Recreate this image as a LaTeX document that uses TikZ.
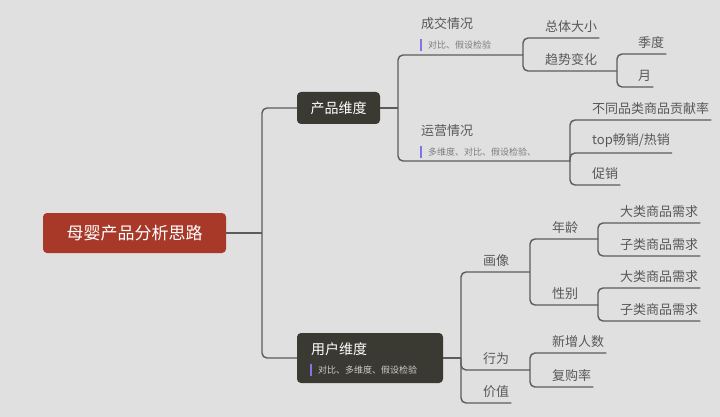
\documentclass[tikz,border=0pt]{standalone}
\usepackage{fontspec}
\setmainfont{Noto Sans CJK SC}
\usetikzlibrary{positioning}
\definecolor{canvas}{RGB}{224,224,224}
\definecolor{rootred}{RGB}{168,56,40}
\definecolor{darkbox}{RGB}{58,58,50}
\definecolor{linegray}{RGB}{92,92,92}
\definecolor{textgray}{RGB}{88,88,88}
\definecolor{notegray}{RGB}{125,125,125}
\definecolor{barblue}{RGB}{125,120,225}

\begin{document}
\begin{tikzpicture}[
	x=1pt, y=-1pt,
	% Styles for boxes
	rootnode/.style={fill=rootred, text=white, rounded corners=4pt, minimum width=183pt, minimum height=40pt, inner sep=0pt, font=\fontsize{17}{20}\selectfont},
	mainnode/.style={fill=darkbox, text=white, rounded corners=4pt, inner sep=0pt, font=\fontsize{14}{17}\selectfont},
	% Styles for text and lines
	topic/.style={anchor=south west, text=textgray, inner xsep=2pt, inner ysep=5pt, font=\fontsize{13}{15}\selectfont},
	title/.style={anchor=west, text=textgray, inner sep=0pt, font=\fontsize{13}{15}\selectfont},
	notetext/.style={anchor=west, text=notegray, inner xsep=0pt, inner ysep=2pt, font=\fontsize{9}{11}\selectfont},
	notemark/.style={draw=barblue, line width=1.3pt},
	branch/.style={draw=linegray, line width=1.4pt, rounded corners=5pt}
	]
	
	% background
	\fill[canvas] (0,0) rectangle (720,417);
	\useasboundingbox (0,0) rectangle (720,417);
	
	% ==========================================
	% ROOT AND MAIN BRANCHES
	% ==========================================
	\node[rootnode] (root) at (134.5,233) {母婴产品分析思路};
	\coordinate (f-root) at (262,233);
	
	\node[mainnode, minimum width=83pt, minimum height=32pt] (pd) at (338.5,108) {产品维度};
	
	\node[mainnode, minimum width=146pt, minimum height=50pt] (ud) at (370,358) {};
	\node[title, text=white, font=\fontsize{14}{17}\selectfont] (ud-t) at (311,349) {用户维度};
	\node[notetext, text=black!20] (ud-n) at (318,370) {对比、多维度、假设检验};
	\draw[notemark] ([xshift=-7pt]ud-n.north west) -- ([xshift=-7pt]ud-n.south west);
	
	\draw[branch] (root.east) -- (f-root);
	\draw[branch] (f-root) |- (pd.west);
	\draw[branch] (f-root) |- (ud.west);
	
	% ==========================================
	% PRODUCT SIDE
	% ==========================================
	\coordinate (f-pd) at (398,108);
	\coordinate (f-cj) at (523,55);
	\coordinate (f-yy) at (570,161);
	\coordinate (f-qs) at (617,71);
	
	% deal situation
	\node[title] (cj) at (421,24) {成交情况};
	\node[notetext] (cj-n) at (428,45) {对比、假设检验};
	\draw[notemark] ([xshift=-7pt]cj-n.north west) -- ([xshift=-7pt]cj-n.south west);
	
	\node[topic] (ztdx) at (543,38) {总体大小};
	\node[topic] (qsbh) at (543,71) {趋势变化};
	\node[topic] (jd) at (636,54) {季度};
	\node[topic] (yue) at (636,87) {月};
	
	% operation situation
	\node[title] (yy) at (421,131) {运营情况};
	\node[notetext] (yy-n) at (428,152) {多维度、对比、假设检验、};
	\draw[notemark] ([xshift=-7pt]yy-n.north west) -- ([xshift=-7pt]yy-n.south west);
	
	\node[topic] (gxl) at (590,120) {不同品类商品贡献率};
	\node[topic] (top) at (590,153) {top畅销/热销};
	\node[topic] (cx) at (590,185) {促销};
	
	\draw[branch] (pd.east) -- (f-pd);
	\draw[branch] (f-pd) |- (f-cj);
	\draw[branch] (f-pd) |- (f-yy);
	\draw[branch] (f-cj) |- (ztdx.south east);
	\draw[branch] (f-cj) |- (f-qs);
	\draw[branch] (f-qs) |- (jd.south east);
	\draw[branch] (f-qs) |- (yue.south east);
	\draw[branch] (f-yy) |- (gxl.south east);
	\draw[branch] (f-yy) |- (top.south east);
	\draw[branch] (f-yy) |- (cx.south east);
	
	% ==========================================
	% USER SIDE
	% ==========================================
	\coordinate (f-ud) at (461,358);
	\coordinate (f-hx) at (530,272);
	\coordinate (f-xw) at (530,370);
	\coordinate (f-nl) at (598,239);
	\coordinate (f-xb) at (598,305);
	
	\node[topic] (hx) at (481,272) {画像};
	\node[topic] (xw) at (481,370) {行为};
	\node[topic] (jz) at (481,403) {价值};
	
	\node[topic] (nl) at (550,239) {年龄};
	\node[topic] (xb) at (550,305) {性别};
	\node[topic] (dl1) at (618,223) {大类商品需求};
	\node[topic] (zl1) at (618,256) {子类商品需求};
	\node[topic] (dl2) at (618,288) {大类商品需求};
	\node[topic] (zl2) at (618,321) {子类商品需求};
	
	\node[topic] (xz) at (550,353) {新增人数};
	\node[topic] (fg) at (550,387) {复购率};
	
	\draw[branch] (ud.east) -- (f-ud);
	\draw[branch] (f-ud) |- (f-hx);
	\draw[branch] (f-ud) |- (f-xw);
	\draw[branch] (f-ud) |- (jz.south east);
	\draw[branch] (f-hx) |- (f-nl);
	\draw[branch] (f-hx) |- (f-xb);
	\draw[branch] (f-nl) |- (dl1.south east);
	\draw[branch] (f-nl) |- (zl1.south east);
	\draw[branch] (f-xb) |- (dl2.south east);
	\draw[branch] (f-xb) |- (zl2.south east);
	\draw[branch] (f-xw) |- (xz.south east);
	\draw[branch] (f-xw) |- (fg.south east);
	
\end{tikzpicture}
\end{document}
